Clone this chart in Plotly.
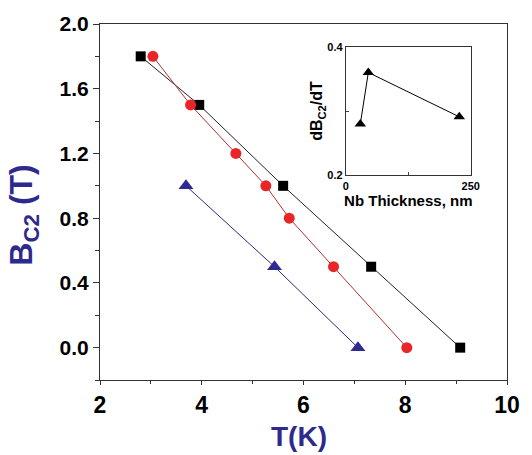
import plotly.graph_objects as go

# Main data
T_sq = [2.8, 3.95, 5.6, 7.33, 9.08]
B_sq = [1.8, 1.5, 1.0, 0.5, 0.0]
T_ci = [3.04, 3.78, 4.67, 5.26, 5.72, 6.59, 8.03]
B_ci = [1.8, 1.5, 1.2, 1.0, 0.8, 0.5, 0.0]
T_tr = [3.69, 5.43, 7.07]
B_tr = [1.0, 0.5, 0.0]

# Inset data
nb_thick = [29, 45, 227]
dbdt = [0.28, 0.36, 0.291]

x_ticks = [2, 4, 6, 8, 10]
y_ticks = [0.0, 0.4, 0.8, 1.2, 1.6, 2.0]

title_col = "#2e2a8c"
fam = "Liberation Sans, Arial, sans-serif"

fig = go.Figure()
fig.add_trace(go.Scatter(x=T_sq, y=B_sq, mode="lines+markers",
                         line=dict(color="#222222", width=1),
                         marker=dict(symbol="square", size=10, color="black"),
                         xaxis="x", yaxis="y"))
fig.add_trace(go.Scatter(x=T_ci, y=B_ci, mode="lines+markers",
                         line=dict(color="#b03030", width=1),
                         marker=dict(symbol="circle", size=11, color="#e8262a"),
                         xaxis="x", yaxis="y"))
fig.add_trace(go.Scatter(x=T_tr, y=B_tr, mode="lines+markers",
                         line=dict(color="#2b2a7a", width=1),
                         marker=dict(symbol="triangle-up", size=13, color="#2e2a90"),
                         xaxis="x", yaxis="y"))
fig.add_trace(go.Scatter(x=nb_thick, y=dbdt, mode="lines+markers",
                         line=dict(color="black", width=1),
                         marker=dict(symbol="triangle-up", size=10, color="black"),
                         xaxis="x2", yaxis="y2"))

axcommon = dict(showgrid=False, zeroline=False, showline=True, linecolor="#333333",
                linewidth=1.2, mirror=True, ticks="outside", tickcolor="#333333")

fig.update_layout(
    width=532, height=455,
    margin=dict(l=100, r=15, t=20, b=75),
    plot_bgcolor="white", paper_bgcolor="white",
    showlegend=False,
    xaxis=dict(range=[2, 10], tickvals=x_ticks, ticklen=4,
               tickfont=dict(family=fam, size=23, color="black", weight="bold"),
               minor=dict(dtick=1, ticklen=3, ticks="outside", tickcolor="#333333"),
               **axcommon),
    yaxis=dict(range=[-0.2, 2.0], tickvals=y_ticks, ticktext=[f"{v:.1f}" for v in y_ticks],
               ticklen=6,
               tickfont=dict(family=fam, size=21, color="black", weight="bold"),
               minor=dict(dtick=0.2, tick0=0, ticklen=4, ticks="outside", tickcolor="#333333"),
               **axcommon),
    xaxis2=dict(domain=[0.604, 0.911], anchor="y2", range=[0, 250], tickvals=[0, 250],
                showgrid=False, zeroline=False, showline=True, linecolor="#333333",
                mirror=True, ticks="inside", ticklen=3,
                minor=dict(tickvals=[125], ticks="inside", ticklen=3),
                tickfont=dict(family=fam, size=11, color="black", weight="bold"),
                title=dict(text="Nb Thickness, nm", standoff=4,
                           font=dict(family=fam, size=15, color="black", weight="bold"))),
    yaxis2=dict(domain=[0.575, 0.936], anchor="x2", range=[0.2, 0.4], tickvals=[0.2, 0.4],
                showgrid=False, zeroline=False, showline=True, linecolor="#333333",
                mirror=True, ticks="inside", ticklen=3,
                minor=dict(tickvals=[0.3], ticks="inside", ticklen=3),
                tickfont=dict(family=fam, size=11, color="black", weight="bold"),
                title=dict(text="dB<sub>C2</sub>/dT", standoff=0,
                           font=dict(family=fam, size=16, color="black", weight="bold"))),
    annotations=[
        dict(text="B<sub>C2</sub> (T)", xref="paper", yref="paper",
             x=-0.187, y=0.464, xanchor="center", yanchor="middle", textangle=-90,
             showarrow=False, font=dict(family=fam, size=32, color=title_col, weight="bold")),
        dict(text="T(K)", xref="paper", yref="paper",
             x=0.49, y=-0.158, xanchor="center", yanchor="middle",
             showarrow=False, font=dict(family=fam, size=28, color=title_col, weight="bold")),
    ],
)

fig.write_html("out.html")
